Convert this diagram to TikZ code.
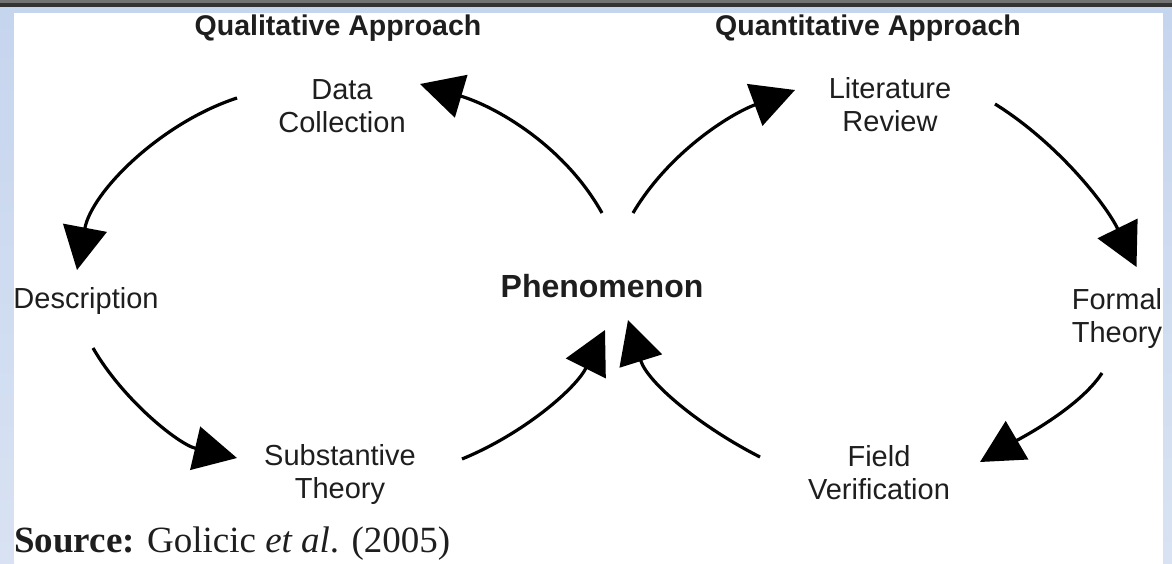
\documentclass[tikz,border=0pt]{standalone}
\usepackage{fontspec}
\setmainfont{Liberation Serif}
\newfontfamily\arialf{Liberation Sans}
\usetikzlibrary{arrows.meta}
\definecolor{bandblue}{HTML}{C6D5EE}
\definecolor{bandblue2}{HTML}{D8E2F2}
\definecolor{txt}{HTML}{1E1E1E}
\tikzset{
  lbl/.style={font=\arialf\fontsize{29}{33}\selectfont, text=txt, align=center, inner sep=0pt, anchor=base},
  head/.style={font=\arialf\bfseries\fontsize{28.5}{33}\selectfont, text=txt, inner sep=0pt, anchor=base},
  flow/.style={line width=3.2pt, draw=black, -{Triangle[length=43pt,width=44pt]}}
}
\begin{document}
\begin{tikzpicture}[x=1pt,y=-1pt]
\useasboundingbox (0,0) rectangle (1172,563);
% background
\fill[bandblue] (0,0) rectangle (1172,563);
\shade[top color=bandblue, bottom color=bandblue2] (0,13) rectangle (14,563);
\shade[top color=bandblue, bottom color=bandblue2] (1163,13) rectangle (1172,563);
\fill[white] (14,13) rectangle (1163,563);
\fill[black!55] (0,0) rectangle (1172,3);
\fill[black!80] (0,3) rectangle (1172,7);
% headings
\node[head] (qual) at (338,35) {Qualitative Approach};
\node[head] (quant) at (868,35) {Quantitative Approach};
% labels (anchor base = baseline of last line)
\node[lbl] (dc) at (342,132) {Data\\Collection};
\node[lbl] (lr) at (890,131) {Literature\\Review};
\node[lbl] (desc) at (86,308) {Description};
\node[head, font=\arialf\bfseries\fontsize{32}{36}\selectfont] (phen) at (602,297) {Phenomenon};
\node[lbl] (ft) at (1117,342) {Formal\\Theory};
\node[lbl] (st) at (340,498) {Substantive\\Theory};
\node[lbl] (fv) at (879,499) {Field\\Verification};
\node[anchor=base west, inner sep=0pt, font=\fontsize{37}{42}\selectfont, text=txt] (src) at (14,552) {\textbf{Source:} Golicic \textit{et al}. (2005)};
% connector end points
\coordinate (a1s) at (237,98);   \coordinate (a1t) at (77,270);
\coordinate (a2s) at (93,348);   \coordinate (a2t) at (237,458);
\coordinate (a3s) at (462,459);  \coordinate (a3t) at (605,330);
\coordinate (a4s) at (760,457);  \coordinate (a4t) at (628,320);
\coordinate (a5s) at (602,213);  \coordinate (a5t) at (420,84);
\coordinate (a6s) at (633,213);  \coordinate (a6t) at (795,90);
\coordinate (a7s) at (995,104);  \coordinate (a7t) at (1136.5,267);
\coordinate (a8s) at (1102,373); \coordinate (a8t) at (980,462);
% connectors
\draw[flow] (a1s) .. controls (161,122.8) and (91.8,191.4) .. (a1t);
\draw[flow] (a2s) .. controls (123,400) and (178.6,444.4) .. (a2t);
\draw[flow] (a3s) .. controls (523,434) and (575.5,389) .. (a3t);
\draw[flow] (a4s) .. controls (701,427) and (647.7,383) .. (a4t);
\draw[flow] (a5s) .. controls (564,145) and (494.8,106.2) .. (a5t);
\draw[flow] (a6s) .. controls (668.7,152.8) and (729.3,114.3) .. (a6t);
\draw[flow] (a7s) .. controls (1056,142) and (1104.7,202.4) .. (a7t);
\draw[flow] (a8s) .. controls (1079.3,408.3) and (1016.2,440.7) .. (a8t);
\end{tikzpicture}
\end{document}
